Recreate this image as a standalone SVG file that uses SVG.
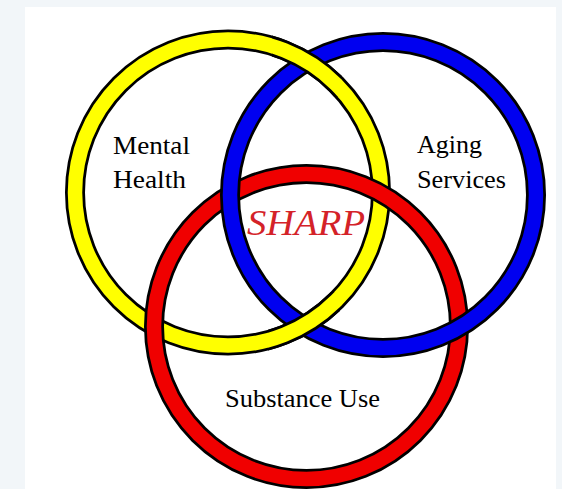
<svg xmlns="http://www.w3.org/2000/svg" width="562" height="489" viewBox="0 0 562 489">
<style>
.edge{fill:none;stroke:#000;stroke-width:20}
.y{fill:none;stroke:#ffff00;stroke-width:14.5}
.b{fill:none;stroke:#0000f0;stroke-width:14.5}
.r{fill:none;stroke:#f00000;stroke-width:14.5}
.lbl{font-family:"Liberation Serif","Times New Roman",serif;font-size:25px;fill:#000}
.sharp{font-family:"Liberation Serif","Times New Roman",serif;font-style:italic;font-size:35px;fill:#d42228}
</style>
<defs>
<clipPath id="ybTop"><rect x="272" y="25" width="70" height="72"/></clipPath>
<clipPath id="ybBot"><rect x="268" y="292" width="72" height="70"/></clipPath>
</defs>
<rect x="0" y="0" width="562" height="489" fill="#f2f6f9"/>
<rect x="25" y="7" width="531" height="482" fill="#ffffff"/>
<g id="connectors"></g>
<g id="mental-health-ring">
<circle class="edge" cx="228" cy="192.5" r="153"/>
<circle class="y" cx="228" cy="192.5" r="153"/>
</g>
<g id="substance-use-ring">
<circle class="edge" cx="306.5" cy="326.5" r="152.5"/>
<circle class="r" cx="306.5" cy="326.5" r="152.5"/>
</g>
<g id="aging-services-ring">
<circle class="edge" cx="383" cy="195" r="153"/>
<circle class="b" cx="383" cy="195" r="153"/>
</g>
<g id="mental-health-ring-over">
<g clip-path="url(#ybTop)">
<circle class="edge" cx="228" cy="192.5" r="153"/>
<circle class="y" cx="228" cy="192.5" r="153"/>
</g>
<g clip-path="url(#ybBot)">
<circle class="edge" cx="228" cy="192.5" r="153"/>
<circle class="y" cx="228" cy="192.5" r="153"/>
</g>
</g>
<g id="mental-health">
<text class="lbl" x="113" y="154" textLength="77" lengthAdjust="spacingAndGlyphs">Mental</text>
<text class="lbl" x="113" y="188" textLength="73" lengthAdjust="spacingAndGlyphs">Health</text>
</g>
<g id="aging-services">
<text class="lbl" x="417" y="153" textLength="65" lengthAdjust="spacingAndGlyphs">Aging</text>
<text class="lbl" x="417" y="188" textLength="89" lengthAdjust="spacingAndGlyphs">Services</text>
</g>
<g id="sharp">
<text class="sharp" x="247" y="235" textLength="118" lengthAdjust="spacingAndGlyphs">SHARP</text>
</g>
<g id="substance-use">
<text class="lbl" x="225" y="407" textLength="155" lengthAdjust="spacingAndGlyphs">Substance Use</text>
</g>
</svg>
